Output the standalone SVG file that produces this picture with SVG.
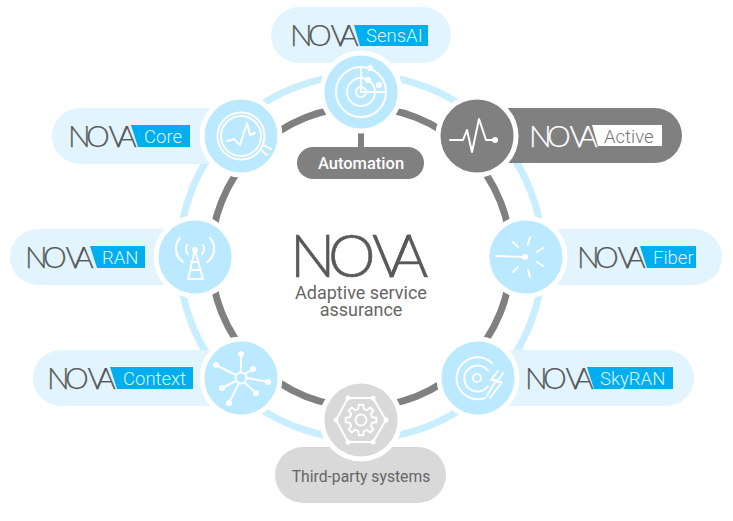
<svg xmlns="http://www.w3.org/2000/svg" width="733" height="521" viewBox="0 0 733 521">
<style>
text{font-family:Roboto,"Liberation Sans",sans-serif}
.pill{fill:#e2f5fe}
.disc{fill:#bbe9ff;stroke:#fff;stroke-width:5}
.disc.g{fill:#808080}
.disc.t{fill:#d9d9d9}
.ic{fill:none;stroke:#fff;stroke-width:2;stroke-linecap:round;stroke-linejoin:round}
.dot{fill:#fff}
.logo{font-size:30px;font-weight:300;fill:#58595b;stroke:#58595b;stroke-width:.25;font-family:Lato,Roboto,sans-serif}
.box{fill:#00aeef}
.tag{font-size:18.5px;font-weight:300;fill:#dcf5ff}
.mid{font-size:18px;fill:#666;text-anchor:middle}
</style>
<defs>
<path id="tooth" d="M11.16 -2.78L15.35 -2.16V2.16L11.16 2.78L9.86 5.92" class="ic"/>
</defs>
<g id="connectors" fill="none">
<circle cx="361" cy="257" r="182" stroke="#c9eeff" stroke-width="7"/>
<circle cx="361" cy="257" r="150" stroke="#808080" stroke-width="7"/>
<path d="M361 125V150" stroke="#808080" stroke-width="6"/>
</g>
<g id="center">
<text x="290 328 372 389" y="277" class="logo" style="font-size:60px;stroke-width:.6">NOVA</text>
<text x="361" y="299" class="mid">Adaptive service</text>
<text x="361" y="316" class="mid">assurance</text>
</g>
<g id="node-automation">
<rect x="297" y="147" width="127" height="32" rx="16" fill="#808080"/>
<text x="361" y="169" text-anchor="middle" font-size="16.5" font-weight="500" fill="#fff">Automation</text>
</g>
<g id="node-sensai">
<rect x="271" y="7" width="180" height="56" rx="28" class="pill"/>
<polygon points="354,25 428,25 428,46 360,46" class="box"/>
<text x="290 308 330.5 339" y="46" class="logo">NOVA</text>
<text x="366" y="42" class="tag">SensAI</text>
<circle cx="361" cy="92" r="39" class="disc"/>
<g class="ic"><path d="M361 92V67A25 25 0 1 1 336 92A25 25 0 0 1 361 67"/><circle cx="361" cy="92" r="14"/><circle cx="361" cy="92" r="5"/><path d="M361 92H386"/></g>
<circle cx="370" cy="68" r="3" class="dot"/><circle cx="368" cy="80" r="3" class="dot"/><circle cx="379" cy="85" r="3" class="dot"/>
</g>
<g id="node-active">
<rect x="470" y="108" width="212" height="55" rx="27.5" fill="#808080"/>
<polygon points="592,125 662,125 662,146 598,146" fill="#fff"/>
<text x="529 547 569.5 578" y="147" class="logo" style="fill:#fff;stroke:#fff">NOVA</text>
<text x="604" y="143" class="tag" style="fill:#777">Active</text>
<circle cx="477" cy="136" r="39" class="disc g"/>
<polyline points="450,140 463,140 467,130 472,152 479,119 486,140 495,140" class="ic"/><circle cx="495" cy="140" r="3" class="dot"/>
</g>
<g id="node-fiber">
<rect x="520" y="229" width="202" height="56" rx="28" class="pill"/>
<polygon points="640,246 696,246 696,268 647,268" class="box"/>
<text x="577 595 617.5 626" y="268" class="logo">NOVA</text>
<text x="653" y="264" class="tag">Fiber</text>
<circle cx="526" cy="257" r="39" class="disc"/>
<path d="M496 256L525 257M513 242L518 247M530 237L528 245M543 248L537 252M543 266L537 262M528 270L530 277M518 267L513 272" class="ic"/><circle cx="525" cy="257" r="3" class="dot"/>
</g>
<g id="node-skyran">
<rect x="470" y="350" width="224" height="56" rx="28" class="pill"/>
<polygon points="587,367 673,367 673,389 594,389" class="box"/>
<text x="525 543 565.5 574" y="389" class="logo">NOVA</text>
<text x="600" y="385" class="tag">SkyRAN</text>
<circle cx="478" cy="378" r="39" class="disc"/>
<g class="ic"><circle cx="477" cy="378" r="4"/><path d="M488 371A13 13 0 1 0 488 386"/><path d="M492 363A21 21 0 1 0 485 398"/><path d="M498 371L491 380H496L487 396"/><path d="M503 373L497 382H502L490 398"/></g>
</g>
<g id="node-core">
<rect x="52" y="108" width="190" height="56" rx="28" class="pill"/>
<polygon points="131,125 190,125 190,147 138,147" class="box"/>
<text x="68 86 108.5 117" y="147" class="logo">NOVA</text>
<text x="144" y="143" class="tag">Core</text>
<circle cx="241" cy="136" r="39" class="disc"/>
<g class="ic"><circle cx="241" cy="136" r="23.5"/><circle cx="241" cy="136" r="20"/><path d="M263 145L271 149M260 149L267 155"/><polyline points="227,141 234,139 240,145 247,123 250,135 255,133"/></g>
</g>
<g id="node-ran">
<rect x="10" y="229" width="190" height="56" rx="28" class="pill"/>
<polygon points="90,246 145,246 145,268 97,268" class="box"/>
<text x="25 43 65.5 74" y="268" class="logo">NOVA</text>
<text x="102" y="264" class="tag">RAN</text>
<circle cx="195" cy="257" r="39" class="disc"/>
<g class="ic"><path d="M195 250L188 279M195 250L203 279M191 262H199M190 270H201M188 279H203"/><path d="M180 238A16 16 0 0 0 183 262M210 238A16 16 0 0 1 207 262M187 245A8 8 0 0 0 188 254M203 245A8 8 0 0 1 202 254"/></g>
<circle cx="195" cy="250" r="3" class="dot"/>
</g>
<g id="node-context">
<rect x="33" y="350" width="210" height="56" rx="28" class="pill"/>
<polygon points="110,367 193,367 193,389 117,389" class="box"/>
<text x="47 65 87.5 96" y="389" class="logo">NOVA</text>
<text x="123" y="385" class="tag">Context</text>
<circle cx="241" cy="378" r="39" class="disc"/>
<g class="ic"><circle cx="241" cy="378" r="5.5"/><path d="M241 372V354M236 375L216 365M245 374L253 369M247 378L268 382M245 383L256 393M239 383L229 403M236 381L222 388"/></g>
<g class="dot"><circle cx="241" cy="354" r="3"/><circle cx="216" cy="365" r="3"/><circle cx="253" cy="369" r="3"/><circle cx="268" cy="382" r="3"/><circle cx="256" cy="393" r="3"/><circle cx="229" cy="403" r="3"/><circle cx="222" cy="388" r="3"/></g>
</g>
<g id="node-third-party">
<rect x="275" y="447" width="171" height="56" rx="28" fill="#d9d9d9"/>
<text x="361" y="482" text-anchor="middle" font-size="15.7" fill="#666">Third-party systems</text>
<circle cx="361" cy="420" r="39" class="disc t"/>
<polygon points="348,398 373,398 386,420 373,442 348,442 336,420" class="ic"/>
<g class="dot"><circle cx="348" cy="398" r="2.5"/><circle cx="373" cy="398" r="2.5"/><circle cx="386" cy="420" r="2.5"/><circle cx="373" cy="442" r="2.5"/><circle cx="348" cy="442" r="2.5"/><circle cx="336" cy="420" r="2.5"/></g>
<circle cx="361" cy="420" r="5.5" class="ic"/>
<g transform="translate(361 420)">
<use href="#tooth"/><use href="#tooth" transform="rotate(45)"/><use href="#tooth" transform="rotate(90)"/><use href="#tooth" transform="rotate(135)"/><use href="#tooth" transform="rotate(180)"/><use href="#tooth" transform="rotate(225)"/><use href="#tooth" transform="rotate(270)"/><use href="#tooth" transform="rotate(315)"/>
</g>
</g>
</svg>
